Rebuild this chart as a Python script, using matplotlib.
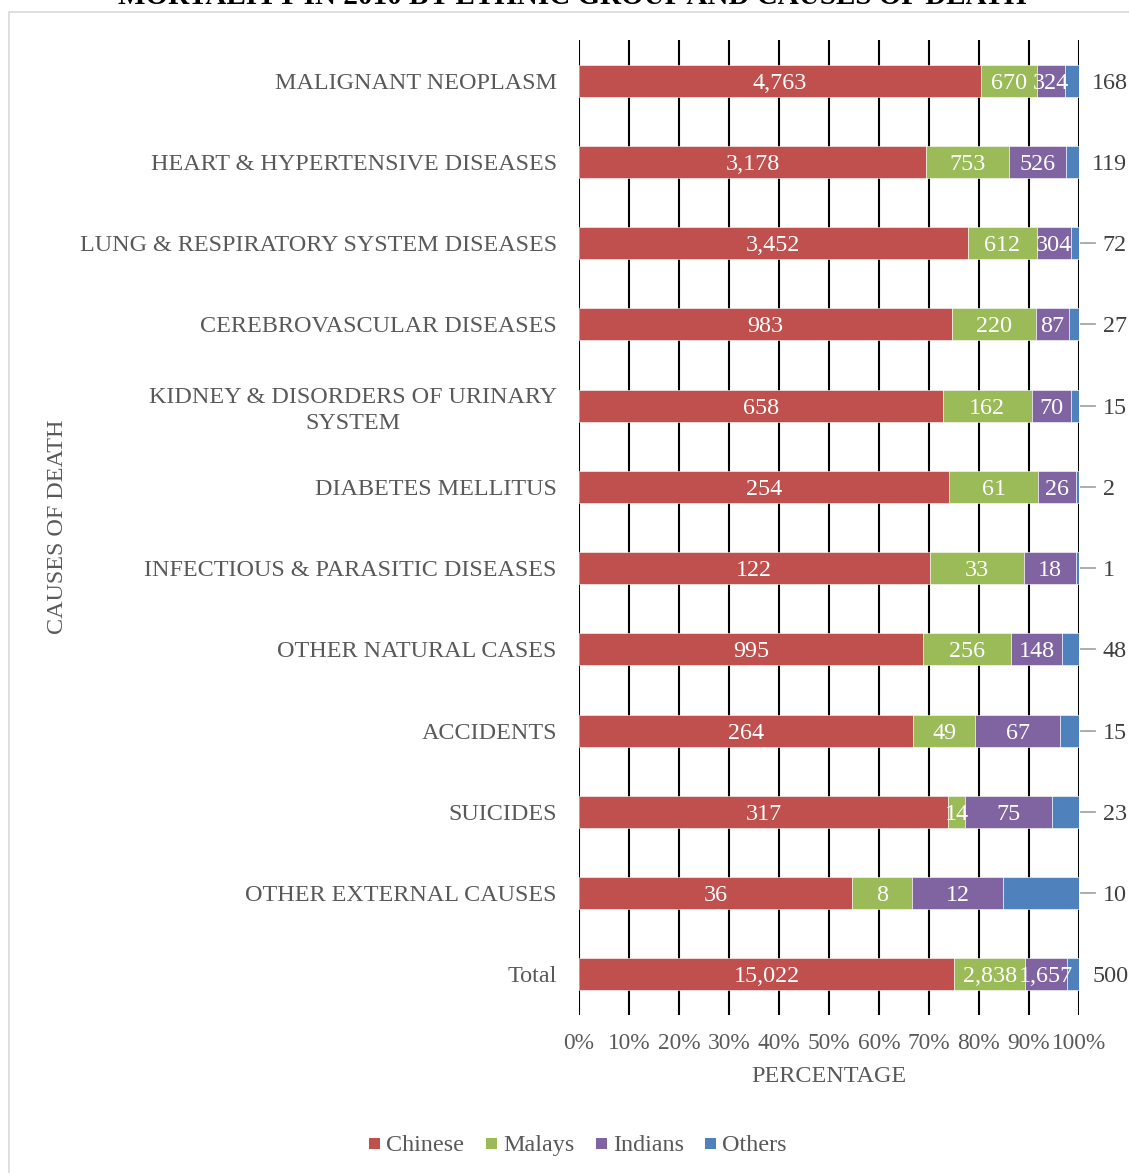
import matplotlib
matplotlib.use("Agg")
import matplotlib.pyplot as plt
from matplotlib.patches import Rectangle
import numpy as np

categories = ["MALIGNANT NEOPLASM", "HEART & HYPERTENSIVE DISEASES",
              "LUNG & RESPIRATORY SYSTEM DISEASES", "CEREBROVASCULAR DISEASES",
              "KIDNEY & DISORDERS OF URINARY\nSYSTEM", "DIABETES MELLITUS",
              "INFECTIOUS & PARASITIC DISEASES", "OTHER NATURAL CASES",
              "ACCIDENTS", "SUICIDES", "OTHER EXTERNAL CAUSES", "Total"]
chinese = [4763, 3178, 3452, 983, 658, 254, 122, 995, 264, 317, 36, 15022]
malays = [670, 753, 612, 220, 162, 61, 33, 256, 49, 14, 8, 2838]
indians = [324, 526, 304, 87, 70, 26, 18, 148, 67, 75, 12, 1657]
others = [168, 119, 72, 27, 15, 2, 1, 48, 15, 23, 10, 500]
series_names = ["Chinese", "Malays", "Indians", "Others"]
xticks = [0, 10, 20, 30, 40, 50, 60, 70, 80, 90, 100]
leader = [False, False, True, True, True, True, True, True, True, True, True, False]

colors = ["#C0504D", "#9BBB59", "#8064A2", "#4F81BD"]
W, H = 1129, 1173
FS = 17.4
fig = plt.figure(figsize=(W / 100, H / 100), dpi=100)
serif = "Liberation Serif"
plt.rcParams["font.family"] = serif

# light border
fig.patches.append(Rectangle((9 / W, -0.05), 1.2, 1 - 12 / H + 0.05,
                             transform=fig.transFigure, fill=False,
                             edgecolor="#D9D9D9", linewidth=1.2))

ax = fig.add_axes([579 / W, 1 - 1015 / H, 500 / W, 975 / H])
data = np.array([chinese, malays, indians, others], dtype=float)
totals = data.sum(axis=0)
pct = data / totals * 100
y = np.arange(len(categories))
left = np.zeros(len(categories))
for i in range(4):
    ax.barh(y, pct[i], left=left, height=0.395, color=colors[i],
            edgecolor="white", linewidth=0.4, zorder=3, label=series_names[i])
    if i < 3:
        for j in range(len(categories)):
            ax.text(left[j] + pct[i][j] / 2, y[j], f"{int(data[i][j]):,}",
                    ha="center", va="center_baseline", color="white", fontsize=FS,
                    family=serif, zorder=5)
    left += pct[i]

# Others labels outside
for j in range(len(categories)):
    if leader[j]:
        ax.plot([100.4, 103.2], [y[j], y[j]], color="#A6A6A6", lw=1.3,
                clip_on=False, zorder=4)
        xt = 104.7
    else:
        xt = 102.6
    ax.text(xt, y[j], f"{int(others[j]):,}", ha="left", va="center_baseline",
            color="#404040", fontsize=FS, family=serif, clip_on=False)

ax.set_xlim(0, 100)
ax.set_ylim(len(categories) - 0.5, -0.5)
ax.set_xticks(xticks)
ax.set_xticklabels([f"{t}%" for t in xticks])
ax.set_yticks(y)
ax.set_yticklabels(categories)
for lab in ax.get_yticklabels():
    lab.set_multialignment("center")
    lab.set_verticalalignment("center_baseline")
    lab.set_linespacing(1.3)
ax.tick_params(axis="both", length=0, labelsize=FS, labelcolor="#595959")
ax.tick_params(axis="x", labelsize=16.8)
ax.tick_params(axis="y", pad=16)
ax.tick_params(axis="x", pad=13)
for s in ax.spines.values():
    s.set_visible(False)
ax.grid(axis="x", color="black", linewidth=1.5, zorder=0)
ax.set_axisbelow(True)

fig.text(829 / W, 1 - 1076 / H, "PERCENTAGE", ha="center", va="center",
         fontsize=FS, color="#595959")
fig.text(58 / W, 1 - 527 / H, "CAUSES OF DEATH", ha="center", va="center",
         rotation=90, fontsize=FS, color="#595959")
fig.text(572 / W, 1 - 4 / H, "MORTALITY IN 2010 BY ETHNIC GROUP AND CAUSES OF DEATH",
         ha="center", va="baseline", fontsize=21, fontweight="bold", color="black")

# manual legend
sq_x = [369, 486, 596, 705]
txt_x = [386, 503, 613, 722]
for c, name, sx, tx in zip(colors, series_names, sq_x, txt_x):
    fig.patches.append(Rectangle((sx / W, 1 - 1149 / H), 11 / W, 11 / H,
                                 transform=fig.transFigure, facecolor=c,
                                 edgecolor="none"))
    fig.text(tx / W, 1 - 1151 / H, name, ha="left", va="baseline",
             fontsize=FS, color="#595959")

fig.savefig("out.png", dpi=100)
